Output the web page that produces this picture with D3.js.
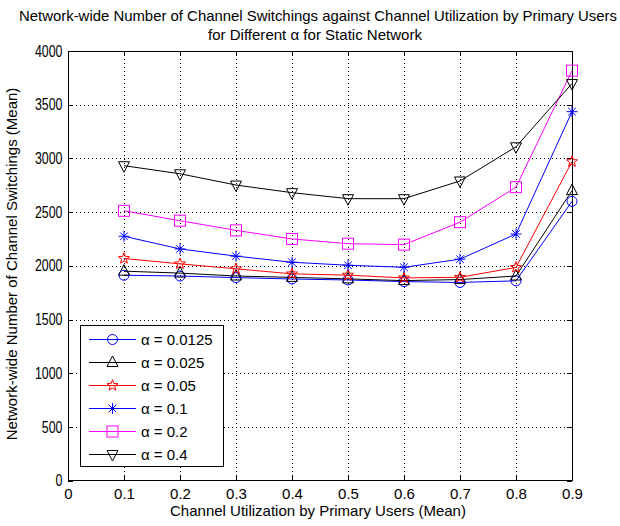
<!DOCTYPE html>
<html><head><meta charset="utf-8">
<script src="https://cdn.jsdelivr.net/npm/d3@7"></script>
<style>body{margin:0;background:#fff}text{font-family:Arial,"Liberation Sans",sans-serif;fill:#000}</style>
</head><body><svg id="c" width="620" height="526"></svg>
<script>
const xValues = [0.1,0.2,0.3,0.4,0.5,0.6,0.7,0.8,0.9];
const seriesLabels = ["α = 0.0125","α = 0.025","α = 0.05","α = 0.1","α = 0.2","α = 0.4"];
const s0125 = [1912,1905,1890,1877,1868,1853,1845,1860,2600];
const s025  = [1950,1932,1905,1892,1878,1862,1872,1905,2700];
const s05   = [2068,2018,1972,1925,1913,1887,1893,1985,2970];
const s1    = [2275,2157,2090,2033,2005,1986,2062,2296,3435];
const s2    = [2512,2420,2330,2250,2206,2197,2406,2732,3817];
const s4    = [2932,2857,2752,2681,2625,2625,2790,3108,3697];
const xTicks = [0,0.1,0.2,0.3,0.4,0.5,0.6,0.7,0.8,0.9];
const yTicks = [0,500,1000,1500,2000,2500,3000,3500,4000];
const colors = ["#0000ff","#000000","#ff0000","#0000ff","#ff00ff","#000000"];
const markers = ["circle","triUp","star","asterisk","square","triDown"];
const allSeries = [s0125,s025,s05,s1,s2,s4];

const svg = d3.select("#c");
const L=68,R=572,T=51,B=480.6;
const x = d3.scaleLinear().domain([0,0.9]).range([L,R]);
const y = d3.scaleLinear().domain([0,4000]).range([B,T]);
const FS = 15;

// grid
const g = svg.append("g");
g.selectAll(".gx").data(xTicks.slice(1,-1)).enter().append("line")
 .attr("x1",d=>Math.round(x(d))+0.5).attr("x2",d=>Math.round(x(d))+0.5).attr("y1",T).attr("y2",B)
 .attr("stroke","#000").attr("stroke-width",1).attr("stroke-dasharray","1,3");
g.selectAll(".gy").data(yTicks.slice(1,-1)).enter().append("line")
 .attr("y1",d=>Math.round(y(d))+0.5).attr("y2",d=>Math.round(y(d))+0.5).attr("x1",L).attr("x2",R)
 .attr("stroke","#000").attr("stroke-width",1).attr("stroke-dasharray","1,3");

// axes
const ax = svg.append("g").attr("transform",`translate(0,${B})`)
 .call(d3.axisBottom(x).tickValues(xTicks).tickFormat(d=>d===0?"0":d3.format(".1f")(d)).tickSizeInner(-5).tickSizeOuter(0).tickPadding(8));
const ay = svg.append("g").attr("transform",`translate(${L},0)`)
 .call(d3.axisLeft(y).tickValues(yTicks).tickFormat(d3.format("d")).tickSizeInner(-5).tickSizeOuter(0).tickPadding(5.5));
const at = svg.append("g").attr("transform",`translate(0,${T})`)
 .call(d3.axisTop(x).tickValues(xTicks).tickFormat("").tickSizeInner(-5).tickSizeOuter(0));
const ar = svg.append("g").attr("transform",`translate(${R},0)`)
 .call(d3.axisRight(y).tickValues(yTicks).tickFormat("").tickSizeInner(-5).tickSizeOuter(0));
[ax,ay,at,ar].forEach(a=>{a.select(".domain").remove();a.selectAll("line").attr("stroke","#000").attr("shape-rendering","crispEdges");
 a.selectAll("text").attr("font-size",FS).style("font-family","Arial,'Liberation Sans',sans-serif");});
ay.selectAll("text").attr("font-size",16).attr("textLength",d=>String(d).length*6.9).attr("lengthAdjust","spacingAndGlyphs");
svg.append("rect").attr("x",L).attr("y",T).attr("width",R-L).attr("height",B-T)
 .attr("fill","none").attr("stroke","#000").attr("stroke-width",1).attr("shape-rendering","crispEdges");

// markers
function drawMarker(sel,type,color,cx,cy){
  const gm = sel.append("g").attr("transform",`translate(${cx},${cy})`);
  if(type==="circle") gm.append("circle").attr("r",5).attr("fill","none").attr("stroke",color);
  else if(type==="square") gm.append("rect").attr("x",-5.5).attr("y",-5.5).attr("width",11).attr("height",11).attr("fill","none").attr("stroke",color);
  else if(type==="triUp") gm.append("path").attr("d","M0,-6.5L5.5,4L-5.5,4Z").attr("fill","none").attr("stroke",color);
  else if(type==="triDown") gm.append("path").attr("d","M0,6.5L5.5,-4L-5.5,-4Z").attr("fill","none").attr("stroke",color);
  else if(type==="star"){
    const pts=[];for(let i=0;i<10;i++){const r=i%2?2.4:5.8;const a=-Math.PI/2+i*Math.PI/5;pts.push([r*Math.cos(a),r*Math.sin(a)]);}
    gm.append("path").attr("d","M"+pts.map(p=>p.join(",")).join("L")+"Z").attr("fill","none").attr("stroke",color);
  } else if(type==="asterisk"){
    gm.append("path").attr("d","M0,-5.5V5.5M-5.5,0H5.5M-3.8,-3.8L3.8,3.8M-3.8,3.8L3.8,-3.8").attr("stroke",color).attr("fill","none");
  }
}

const line = d3.line().x((d,i)=>x(xValues[i])).y(d=>y(d));
allSeries.forEach((s,k)=>{
  svg.append("path").datum(s).attr("d",line).attr("fill","none").attr("stroke",colors[k]).attr("stroke-width",1);
  s.forEach((v,i)=>drawMarker(svg,markers[k],colors[k],x(xValues[i]),y(v)));
});

// legend
const lg = svg.append("g");
lg.append("rect").attr("x",80.5).attr("y",325.5).attr("width",143).attr("height",141).attr("fill","#fff").attr("stroke","#000").attr("shape-rendering","crispEdges");
seriesLabels.forEach((lab,k)=>{
  const ly = 339.5 + k*23;
  lg.append("line").attr("x1",89).attr("x2",136).attr("y1",ly).attr("y2",ly).attr("stroke",colors[k]);
  drawMarker(lg,markers[k],colors[k],112.5,ly);
  lg.append("text").attr("x",141).attr("y",ly+5.5).attr("font-size",FS).text(lab);
});

// titles
svg.append("text").attr("x",318).attr("y",20.5).attr("text-anchor","middle").attr("font-size",FS)
 .attr("textLength",598).attr("lengthAdjust","spacingAndGlyphs")
 .text("Network-wide Number of Channel Switchings against Channel Utilization by Primary Users");
svg.append("text").attr("x",315).attr("y",40).attr("text-anchor","middle").attr("font-size",FS)
 .attr("textLength",214).attr("lengthAdjust","spacingAndGlyphs")
 .text("for Different α for Static Network");
svg.append("text").attr("x",318).attr("y",516).attr("text-anchor","middle").attr("font-size",FS)
 .text("Channel Utilization by Primary Users (Mean)");
svg.append("text").attr("transform","translate(16.5,264) rotate(-90)").attr("text-anchor","middle").attr("font-size",FS)
 .text("Network-wide Number of Channel Switchings (Mean)");
</script></body></html>
